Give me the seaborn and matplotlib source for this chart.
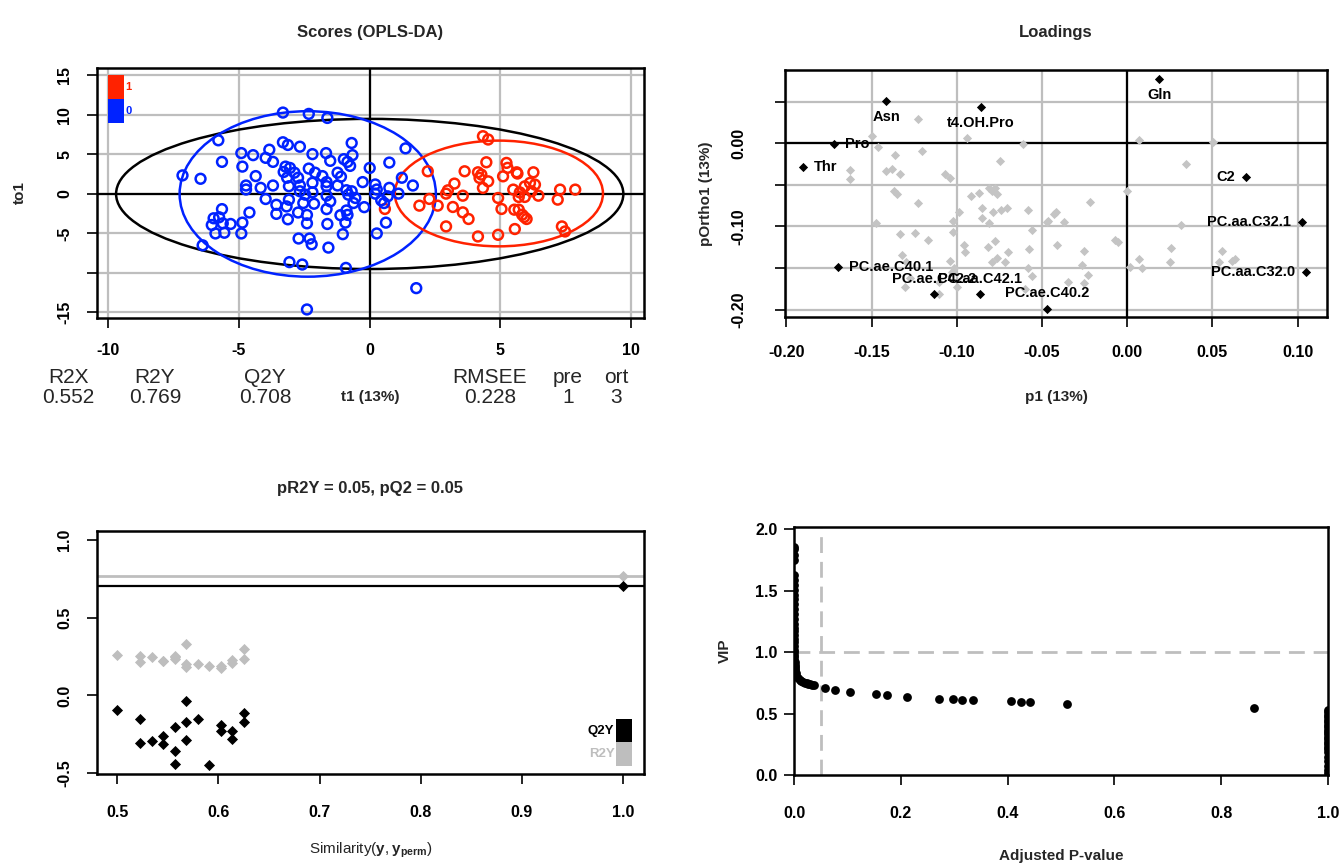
import matplotlib
matplotlib.use("Agg")
import matplotlib.pyplot as plt
import numpy as np
import pandas as pd
import seaborn as sns
from matplotlib.patches import Ellipse, Rectangle

sns.set_theme(style="white")
plt.rcParams['font.family'] = ['Liberation Sans', 'DejaVu Sans']
plt.rcParams['mathtext.fontset'] = 'custom'
plt.rcParams['mathtext.rm'] = 'Liberation Sans'
plt.rcParams['mathtext.bf'] = 'Liberation Sans:bold'

# ---------------- DATA ----------------
# Scores (OPLS-DA)
class0_t1 = [-3.32,-2.33,-1.62,-5.79,-0.69,-3.32,-3.13,-2.67,1.37,-3.84,-4.91,-4.46,-2.19,-1.67,-0.66,
             -3.98,-3.70,-5.65,-1.51,-0.99,-0.85,-4.87,-3.22,-3.05,-2.33,-0.75,0.0,0.75,-3.29,-2.88,-2.09,
             -1.81,-1.23,-1.10,-7.16,-6.47,-4.36,-3.16,-2.74,-2.19,-1.65,1.23,-4.73,-3.70,-4.17,-3.09,-2.67,
             -1.65,-1.23,-0.27,0.21,1.65,-4.73,-2.67,-2.19,-0.89,-0.69,0.27,0.75,1.10,-3.98,-3.09,-2.47,-1.65,
             -1.51,-0.82,-0.55,0.21,0.69,-3.57,-2.54,-2.13,-3.18,-0.62,-0.21,0.44,0.55,-5.65,-4.60,-3.57,-2.74,
             -2.40,-1.65,-0.89,-0.85,-5.97,-5.76,-3.13,-2.40,-1.12,-0.93,-6.04,-5.62,-5.32,-4.87,-1.62,-5.90,
             -5.56,-4.91,-1.03,0.27,0.62,-2.72,-2.30,-2.22,-1.58,-6.39,-3.07,-2.58,-0.91,1.78,-2.40]
class0_to1 = [10.30,10.13,9.62,6.79,6.45,6.54,6.20,5.98,5.77,5.60,5.17,4.91,5.04,5.17,4.91,
              4.57,4.06,4.06,4.19,4.40,4.06,3.46,3.46,3.29,3.21,3.55,3.29,3.97,2.78,2.69,2.69,
              2.26,2.69,2.18,2.35,1.92,2.26,2.05,2.05,1.41,1.50,2.05,1.07,1.07,0.77,0.98,1.07,
              0.98,1.07,1.50,1.20,1.07,0.56,0.34,0.21,0.47,0.34,0.56,0.77,0.04,-0.64,-0.73,-0.09,-0.21,
              -0.94,-0.09,-0.51,0.04,-0.30,-1.37,-1.15,-1.24,-1.58,-1.15,-1.67,-0.81,-1.15,-1.92,-2.35,-2.52,-2.35,
              -2.65,-1.92,-2.09,-2.65,-3.08,-2.95,-3.21,-3.72,-2.69,-3.63,-3.93,-3.72,-3.80,-3.63,-3.80,-5.00,
              -4.91,-5.00,-5.09,-5.00,-3.63,-5.64,-5.64,-6.37,-6.79,-6.50,-8.63,-8.93,-9.36,-11.92,-14.62]
class1_t1 = [4.33,4.53,4.46,5.23,5.27,5.62,5.65,6.26,3.63,4.14,4.27,4.20,4.53,5.10,
             3.24,2.99,2.92,3.56,4.33,4.91,5.49,5.74,5.93,6.13,6.19,6.32,6.45,5.70,5.93,7.28,7.19,7.86,
             2.60,3.18,3.56,3.78,5.04,5.53,5.70,5.83,5.91,6.00,2.92,4.14,4.91,5.55,7.35,7.47,
             2.22,2.28,1.90,0.58]
class1_to1 = [7.31,6.89,4.01,3.93,3.30,2.74,2.58,2.74,2.87,2.74,2.45,2.03,1.60,2.23,
              1.31,0.46,0.04,-0.22,0.76,-0.51,0.55,0.20,0.96,1.40,0.33,1.18,-0.22,-0.38,-0.38,0.55,-0.72,0.55,
              -1.48,-1.65,-2.33,-3.17,-1.90,-1.99,-1.99,-2.63,-2.92,-3.17,-4.11,-5.38,-5.17,-4.44,-4.11,-4.75,
              2.87,-0.63,-1.48,-1.90]
# Hotelling ellipses: all, class 0, class 1
ell_cx = [0.0, -2.37, 4.94]
ell_cy = [0.0, 0.0, 0.06]
ell_rx = [9.70, 4.90, 3.98]
ell_ry = [9.50, 10.47, 6.69]
score_stats_names = ["R2X", "R2Y", "Q2Y", "RMSEE", "pre", "ort"]
score_stats_vals = ["0.552", "0.769", "0.708", "0.228", "1", "3"]

# Loadings
load_names = ['Gln', 'Asn', 't4.OH.Pro', 'Pro', 'Thr', 'C2', 'PC.aa.C32.1', 'PC.aa.C32.0',
              'PC.ae.C40.1', 'PC.ae.C42.2', 'PC.aa.C42.1', 'PC.ae.C40.2']
load_p1 = [0.0187, -0.1413, -0.0859, -0.1721, -0.1903, 0.0696, 0.1028, 0.1048,
           -0.1696, -0.1135, -0.0863, -0.0472]
load_po = [0.0768, 0.0505, 0.0432, -0.0004, -0.0287, -0.0408, -0.0953, -0.1553,
           -0.1485, -0.1812, -0.1812, -0.1989]
other_p1 = [-0.1227,-0.1497,-0.1461,-0.1364,-0.1203,-0.1414,-0.1379,-0.1336,-0.1629,-0.1629,-0.0940,
            -0.1067,-0.1038,-0.1369,-0.1350,-0.1227,-0.0988,-0.0914,-0.0871,-0.0812,-0.0793,-0.0774,-0.0852,
            -0.0789,-0.0852,-0.0812,-0.1473,-0.1023,-0.1023,-0.1331,-0.1246,-0.1168,-0.0959,-0.0950,-0.0816,
            -0.0774,-0.0764,-0.0793,-0.1321,-0.1297,-0.1038,-0.1018,-0.1028,-0.1106,-0.0998,-0.1305,-0.1272,
            -0.1102,
            -0.0610,0.0069,0.0504,-0.0746,0.0342,-0.0766,-0.0740,-0.0707,-0.0580,-0.0219,-0.0004,-0.0420,
            -0.0428,-0.0463,-0.0473,-0.0369,-0.0560,0.0315,-0.0072,-0.0057,-0.0414,-0.0252,-0.0576,-0.0701,
            -0.0717,-0.0580,-0.0560,-0.0267,-0.0229,-0.0252,-0.0346,0.0256,0.0250,0.0069,0.0084,0.0016,
            0.0557,0.0538,0.0616,0.0631,-0.0600]
other_po = [0.0291,0.0089,-0.0044,-0.0141,-0.0093,-0.0335,-0.0315,-0.0367,-0.0327,-0.0436,0.0061,
            -0.0375,-0.0424,-0.0577,-0.0609,-0.0718,-0.0827,-0.0638,-0.0597,-0.0536,-0.0577,-0.0536,-0.0779,
            -0.0827,-0.0900,-0.0960,-0.0960,-0.0940,-0.1069,-0.1093,-0.1081,-0.1162,-0.1223,-0.1304,-0.1243,
            -0.1182,-0.1384,-0.1425,-0.1344,-0.1425,-0.1416,-0.1505,-0.1546,-0.1667,-0.1728,-0.1728,-0.1626,
            -0.1808,
            -0.0004,0.0036,0.0020,-0.0214,-0.0246,-0.0617,-0.0799,-0.0779,-0.0799,-0.0706,-0.0569,-0.0827,
            -0.0851,-0.0940,-0.0948,-0.0948,-0.1041,-0.0981,-0.1162,-0.1190,-0.1223,-0.1295,-0.1271,-0.1304,
            -0.1425,-0.1505,-0.1594,-0.1465,-0.1586,-0.1686,-0.1675,-0.1255,-0.1432,-0.1392,-0.1497,-0.1485,
            -0.1295,-0.1425,-0.1416,-0.1392,-0.1755]

# Permutation test
perm_sim_r2 = [0.5, 0.5227, 0.5227, 0.534, 0.5454, 0.5454, 0.5568, 0.5568, 0.5568, 0.568, 0.568, 0.568,
               0.5795, 0.5909, 0.6023, 0.6023, 0.6136, 0.6136, 0.625, 0.625, 1.0]
perm_r2y = [0.259, 0.255, 0.213, 0.247, 0.2215, 0.2215, 0.255, 0.234, 0.245, 0.333, 0.205, 0.184,
            0.200, 0.188, 0.188, 0.175, 0.230, 0.209, 0.297, 0.234, 0.769]
perm_sim_q2 = [0.5, 0.5227, 0.5227, 0.534, 0.5454, 0.5454, 0.5568, 0.5568, 0.5568, 0.568, 0.568, 0.568,
               0.5795, 0.5909, 0.6023, 0.6023, 0.6136, 0.6136, 0.625, 0.625, 1.0]
perm_q2y = [-0.091, -0.154, -0.306, -0.293, -0.264, -0.310, -0.205, -0.361, -0.441, -0.036, -0.171, -0.287,
            -0.150, -0.449, -0.188, -0.230, -0.230, -0.281, -0.116, -0.171, 0.708]
model_r2y = 0.769
model_q2y = 0.708

# VIP vs adjusted p-value
vip_p_low = [0.0, 0.0, 0.0, 0.0, 0.0, 0.0, 0.0, 0.0, 0.0, 0.0, 0.0, 0.0, 0.0, 0.0, 0.0, 0.0, 0.0,
             0.0, 0.0, 0.0, 0.0, 0.0, 0.0, 0.0, 0.0, 0.0, 0.001, 0.001, 0.001, 0.002, 0.002, 0.003,
             0.0045, 0.008, 0.011, 0.014, 0.017, 0.020, 0.024, 0.027, 0.030, 0.034, 0.037]
vip_v_low = [1.86, 1.84, 1.79, 1.75, 1.63, 1.59, 1.55, 1.51, 1.47, 1.43, 1.39, 1.35, 1.31, 1.27, 1.23,
             1.20, 1.17, 1.14, 1.11, 1.08, 1.05, 1.02, 1.00, 0.98, 0.96, 0.94, 0.92, 0.90, 0.88, 0.86,
             0.85, 0.83, 0.81, 0.79, 0.775, 0.765, 0.759, 0.753, 0.748, 0.744, 0.740, 0.736, 0.732]
vip_p_mid = [0.058, 0.077, 0.105, 0.153, 0.175, 0.211, 0.272, 0.297, 0.314, 0.336, 0.406, 0.426,
             0.442, 0.512, 0.862]
vip_v_mid = [0.709, 0.692, 0.679, 0.657, 0.648, 0.637, 0.621, 0.615, 0.613, 0.610, 0.599, 0.596,
             0.593, 0.582, 0.549]
vip_p_one = [1.0, 1.0, 1.0, 1.0, 1.0, 1.0, 1.0, 1.0, 1.0, 1.0, 1.0, 1.0, 1.0, 1.0, 1.0, 1.0, 1.0,
             1.0, 1.0, 1.0, 1.0, 1.0, 1.0]
vip_v_one = [0.53, 0.51, 0.49, 0.47, 0.45, 0.43, 0.41, 0.39, 0.37, 0.35, 0.33, 0.31, 0.29, 0.27, 0.25,
             0.23, 0.21, 0.19, 0.15, 0.11, 0.07, 0.04, 0.02]

# ---------------- FIGURE ----------------
W, H = 1339, 865
fig = plt.figure(figsize=(W / 100, H / 100), dpi=100)
fig.patch.set_facecolor('white')

def px_axes(l, t, r, b):
    return fig.add_axes([l / W, 1 - b / H, (r - l) / W, (b - t) / H])

def ftext(x, y, s, **kw):
    fig.text(x / W, 1 - y / H, s, **kw)

GREY = '#BEBEBE'
RED = '#FF2200'
BLUE = '#0022FF'
TICKFS = 11.5

def style_axes(ax):
    ax.set_facecolor('white')
    for s in ax.spines.values():
        s.set_visible(True)
        s.set_color('black')
        s.set_linewidth(1.8)
    ax.tick_params(axis='both', which='both', direction='out', length=7, width=1.2,
                   color='black', bottom=True, left=True, top=False, right=False,
                   labelsize=TICKFS, labelcolor='black')

def center_labels(ax):
    ax.xaxis.label.set_va('center')
    ax.xaxis.label.set_ha('center')
    ax.yaxis.label.set_va('center')
    ax.yaxis.label.set_ha('center')

# ---- Scores ----
ax1 = px_axes(97, 68, 644, 318)
style_axes(ax1)
ax1.set_axisbelow(True)
xt = [-10, -5, 0, 5, 10]
yt = [15, 10, 5, 0, -5, -10, -15]
ax1.set_xticks(xt)
ax1.set_xticklabels([str(v) for v in xt], fontweight='bold')
ax1.set_yticks(yt)
ax1.set_yticklabels(['15', '10', '5', '0', '-5', '', '-15'], fontweight='bold', rotation=90, va='center')
ax1.tick_params(axis='x', pad=11)
ax1.tick_params(axis='y', pad=11)
ax1.grid(True, color=GREY, linewidth=1.6)
ax1.axhline(0, color='black', lw=1.6, zorder=1.5)
ax1.axvline(0, color='black', lw=1.6, zorder=1.5)
for cx, cy, rx, ry, col in zip(ell_cx, ell_cy, ell_rx, ell_ry, ['black', BLUE, RED]):
    ax1.add_patch(Ellipse((cx, cy), 2 * rx, 2 * ry, fill=False, edgecolor=col, lw=1.8, zorder=2))
df0 = pd.DataFrame({'t1': class0_t1, 'to1': class0_to1})
df1 = pd.DataFrame({'t1': class1_t1, 'to1': class1_to1})
for df, col in [(df1, RED), (df0, BLUE)]:
    sns.scatterplot(data=df, x='t1', y='to1', ax=ax1, color=col, s=50, linewidth=1.8,
                    legend=False, zorder=3)
    coll = ax1.collections[-1]
    coll.set_facecolor('none')
    coll.set_edgecolor(col)
ax1.set_xlim(-10.43, 10.49)
ax1.set_ylim(-15.7, 15.94)
ax1.set_xlabel('')
ax1.set_ylabel('to1', fontweight='bold', fontsize=11)
center_labels(ax1)
ax1.yaxis.set_label_coords(-0.141, 0.5)
ax1.text(0.499, -0.316, 't1 (13%)', transform=ax1.transAxes, ha='center', va='center',
         fontweight='bold', fontsize=11)
# legend boxes
ax1.add_patch(Rectangle((0.021, 0.877), 0.028, 0.097, transform=ax1.transAxes, color=RED,
                        lw=0, zorder=4))
ax1.add_patch(Rectangle((0.021, 0.780), 0.028, 0.097, transform=ax1.transAxes, color=BLUE,
                        lw=0, zorder=4))
ax1.text(0.052, 0.925, '1', transform=ax1.transAxes, color=RED, fontsize=8, fontweight='bold',
         va='center', ha='left', zorder=5)
ax1.text(0.052, 0.828, '0', transform=ax1.transAxes, color=BLUE, fontsize=8, fontweight='bold',
         va='center', ha='left', zorder=5)
ftext(370, 33, 'Scores (OPLS-DA)', ha='center', va='center', fontweight='bold', fontsize=12)
stat_x = [68, 155, 265, 490, 568, 616]
for x, nm, v in zip(stat_x, score_stats_names, score_stats_vals):
    ftext(x, 377, nm, ha='center', va='center', fontsize=15)
    ftext(x, 397, v, ha='center', va='center', fontsize=15)

# ---- Loadings ----
ax2 = px_axes(785, 70, 1327, 317)
style_axes(ax2)
ax2.set_axisbelow(True)
lxt = [-0.20, -0.15, -0.10, -0.05, 0.00, 0.05, 0.10]
lyt = [0.05, 0.00, -0.05, -0.10, -0.15, -0.20]
ax2.set_xticks(lxt)
ax2.set_xticklabels(['%.2f' % v for v in lxt], fontweight='bold')
ax2.set_yticks(lyt)
ax2.set_yticklabels(['', '0.00', '', '-0.10', '', '-0.20'], fontweight='bold', rotation=90, va='center')
ax2.tick_params(axis='x', pad=13)
ax2.tick_params(axis='y', pad=21)
ax2.grid(True, color=GREY, linewidth=1.6)
ax2.axhline(0, color='black', lw=1.6, zorder=1.5)
ax2.axvline(0, color='black', lw=1.6, zorder=1.5)
dfo = pd.DataFrame({'p1': other_p1, 'po': other_po})
sns.scatterplot(data=dfo, x='p1', y='po', ax=ax2, color='#C4C4C4', marker='D', s=22, linewidth=0,
                legend=False, zorder=3)
dfl = pd.DataFrame({'p1': load_p1, 'po': load_po, 'name': load_names})
sns.scatterplot(data=dfl, x='p1', y='po', ax=ax2, color='black', marker='D', s=22, linewidth=0,
                legend=False, zorder=4)
label_side = {'Gln': 'below', 'Asn': 'below', 't4.OH.Pro': 'below', 'Pro': 'right', 'Thr': 'right',
              'C2': 'left', 'PC.aa.C32.1': 'left', 'PC.aa.C32.0': 'left', 'PC.ae.C40.1': 'right',
              'PC.ae.C42.2': 'above', 'PC.aa.C42.1': 'above', 'PC.ae.C40.2': 'above'}
offs = {'below': ((0, -11.5), 'center', 'center'), 'above': ((0, 11), 'center', 'center'),
        'right': ((8, 0), 'left', 'center'), 'left': ((-8, 0), 'right', 'center')}
for _, r in dfl.iterrows():
    (dx, dy), ha, va = offs[label_side[r['name']]]
    ax2.annotate(r['name'], (r['p1'], r['po']), xytext=(dx, dy), textcoords='offset points',
                 ha=ha, va=va, fontsize=10.5, fontweight='bold', color='black', zorder=5)
ax2.set_xlim(-0.2008, 0.1172)
ax2.set_ylim(-0.209, 0.088)
ax2.set_xlabel('p1 (13%)', fontweight='bold', fontsize=11)
ax2.set_ylabel('pOrtho1 (13%)', fontweight='bold', fontsize=11)
center_labels(ax2)
ax2.xaxis.set_label_coords(0.5, -0.3255)
ax2.yaxis.set_label_coords(-0.145, 0.5)
ftext(1056, 33, 'Loadings', ha='center', va='center', fontweight='bold', fontsize=12)

# ---- Permutation ----
ax3 = px_axes(97, 531, 644, 774)
style_axes(ax3)
ax3.axhline(model_r2y, color=GREY, lw=2.0, zorder=1)
ax3.axhline(model_q2y, color='black', lw=1.6, zorder=1)
dr = pd.DataFrame({'sim': perm_sim_r2, 'val': perm_r2y})
dq = pd.DataFrame({'sim': perm_sim_q2, 'val': perm_q2y})
sns.scatterplot(data=dr, x='sim', y='val', ax=ax3, color=GREY, marker='D', s=32, linewidth=0,
                legend=False, zorder=3)
sns.scatterplot(data=dq, x='sim', y='val', ax=ax3, color='black', marker='D', s=32, linewidth=0,
                legend=False, zorder=3)
pxt = [0.5, 0.6, 0.7, 0.8, 0.9, 1.0]
pyt = [-0.5, 0.0, 0.5, 1.0]
ax3.set_xticks(pxt)
ax3.set_xticklabels(['%.1f' % v for v in pxt], fontweight='bold')
ax3.set_yticks(pyt)
ax3.set_yticklabels(['%.1f' % v for v in pyt], fontweight='bold', rotation=90, va='center')
ax3.tick_params(axis='x', pad=15)
ax3.tick_params(axis='y', pad=11)
ax3.set_xlim(0.48, 1.0206)
ax3.set_ylim(-0.506, 1.059)
ax3.set_ylabel('')
ax3.set_xlabel(r'Similarity$(\mathbf{y}, \mathbf{y}_{\mathbf{perm}})$', fontsize=11)
center_labels(ax3)
ax3.xaxis.set_label_coords(0.5, -0.313)
ax3.add_patch(Rectangle((0.949, 0.130), 0.029, 0.098, transform=ax3.transAxes, color='black',
                        lw=0, zorder=4))
ax3.add_patch(Rectangle((0.949, 0.033), 0.029, 0.097, transform=ax3.transAxes, color=GREY,
                        lw=0, zorder=4))
ax3.text(0.946, 0.179, 'Q2Y', transform=ax3.transAxes, ha='right', va='center', fontsize=9.5,
         fontweight='bold', color='black')
ax3.text(0.946, 0.082, 'R2Y', transform=ax3.transAxes, ha='right', va='center', fontsize=9.5,
         fontweight='bold', color=GREY)
ftext(370, 488, 'pR2Y = 0.05, pQ2 = 0.05', ha='center', va='center', fontweight='bold', fontsize=12)

# ---- VIP ----
ax4 = px_axes(794, 527, 1328, 775)
style_axes(ax4)
dv = pd.DataFrame({'p': vip_p_low + vip_p_mid + vip_p_one,
                   'vip': vip_v_low + vip_v_mid + vip_v_one})
ax4.axvline(0.05, color=GREY, lw=2.0, ls=(0, (5.7, 3.2)), zorder=1)
ax4.axhline(1.0, color=GREY, lw=2.0, ls=(0, (5.7, 3.2)), zorder=1)
sns.scatterplot(data=dv, x='p', y='vip', ax=ax4, color='black', s=40, linewidth=0,
                legend=False, zorder=3)
vxt = [0.0, 0.2, 0.4, 0.6, 0.8, 1.0]
vyt = [0.0, 0.5, 1.0, 1.5, 2.0]
ax4.set_xticks(vxt)
ax4.set_xticklabels(['%.1f' % v for v in vxt], fontweight='bold')
ax4.set_yticks(vyt)
ax4.set_yticklabels(['%.1f' % v for v in vyt], fontweight='bold')
ax4.tick_params(axis='x', pad=15)
ax4.tick_params(axis='y', pad=5)
ax4.set_xlim(0, 1)
ax4.set_ylim(0, 2.02)
ax4.set_xlabel('Adjusted P-value', fontweight='bold', fontsize=11)
ax4.set_ylabel('VIP', fontweight='bold', fontsize=11)
center_labels(ax4)
ax4.xaxis.set_label_coords(0.5, -0.327)
ax4.yaxis.set_label_coords(-0.129, 0.5)

fig.savefig('out.png', dpi=100, facecolor='white')
